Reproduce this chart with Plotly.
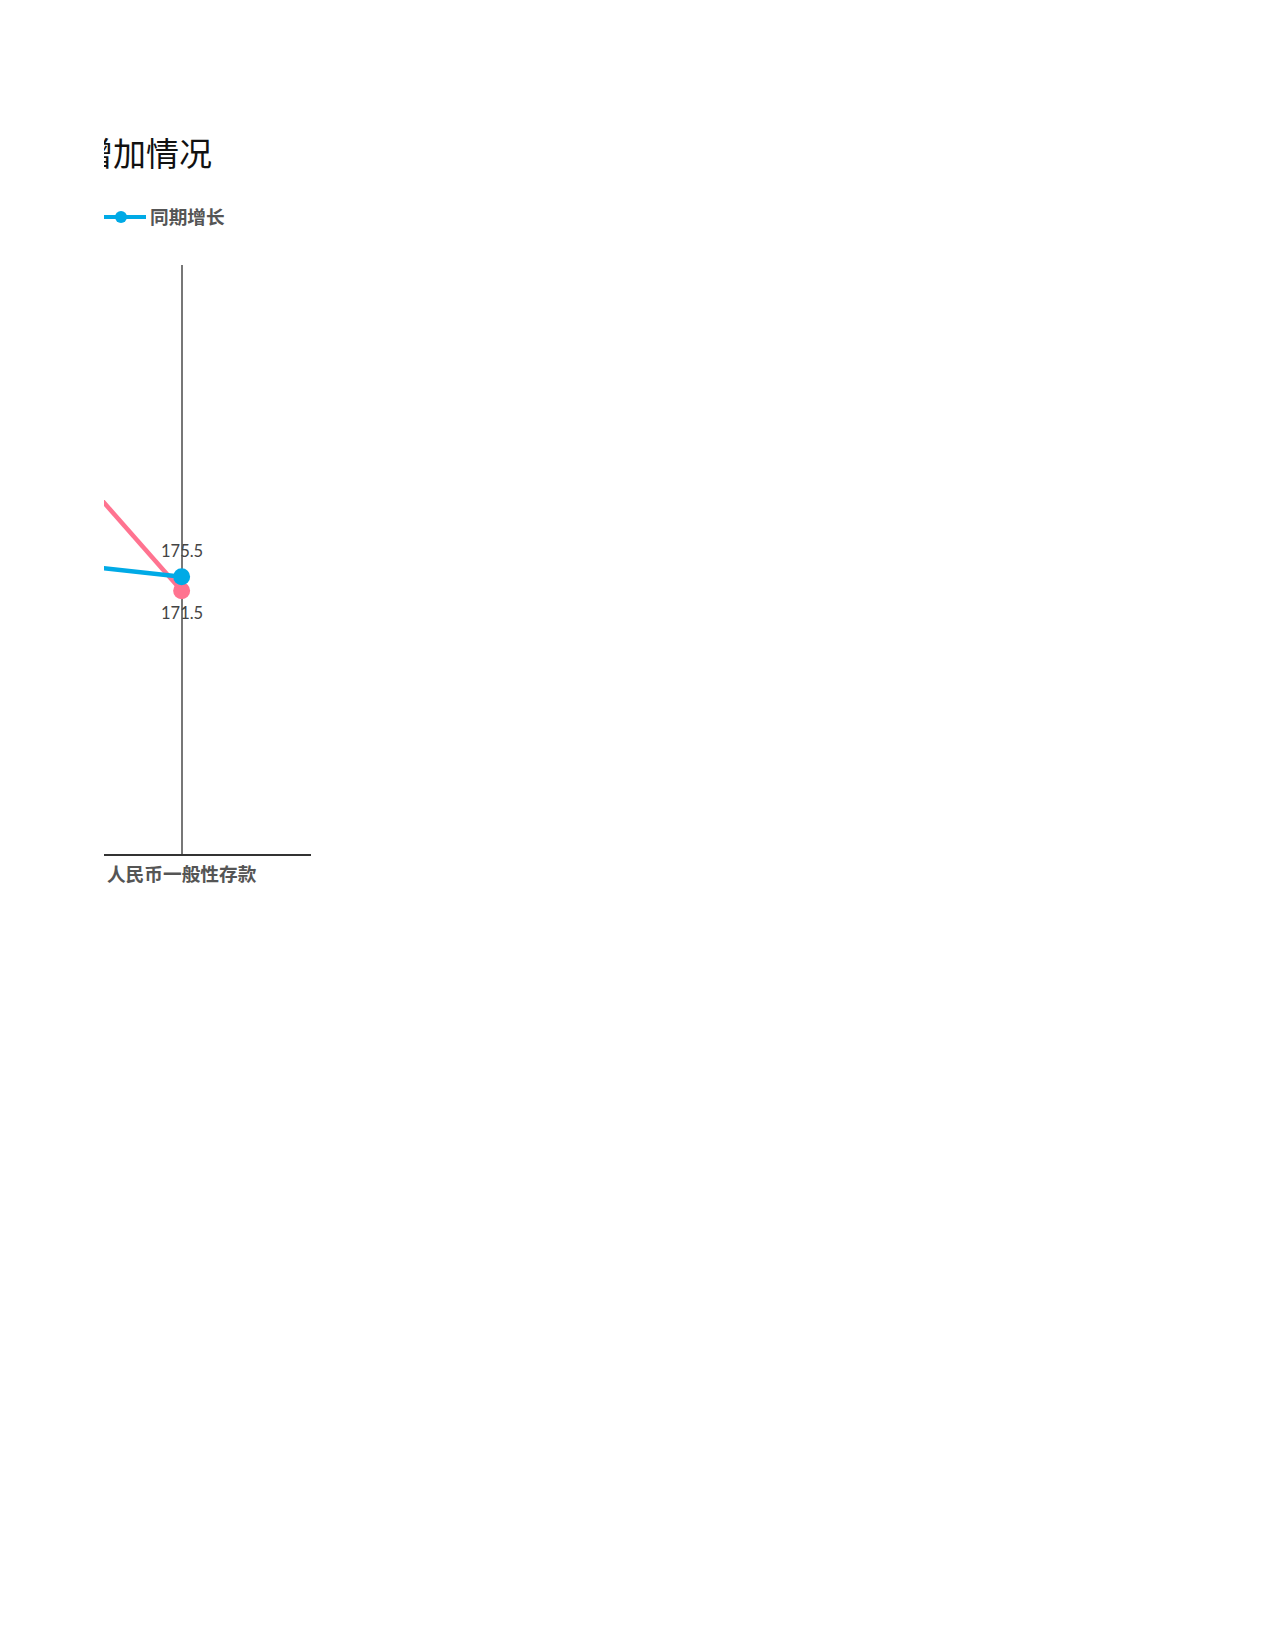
import plotly.graph_objects as go

# data
categories = ["人民币各项存款", "人民币一般性存款"]
current_growth = [255.5, 171.5]   # 本期增长
prior_growth = [183.6, 175.5]     # 同期增长
series_names = ["本期增长", "同期增长"]
title_text = "人民币存款增加情况"

PINK = "#FF7390"
BLUE = "#00AAE6"
W, H = 1275, 1650
OFF = 8  # body margin of the page


def px(x):
    return (x - OFF) / W


def py(y):
    return 1 - (y - OFF) / H


fig = go.Figure()

fig.add_trace(go.Scatter(
    x=categories, y=current_growth, name=series_names[0],
    mode="lines+markers",
    line=dict(color=PINK, width=4.5), marker=dict(color=PINK, size=17),
    cliponaxis=True,
))
fig.add_trace(go.Scatter(
    x=categories, y=prior_growth, name=series_names[1],
    mode="lines+markers",
    line=dict(color=BLUE, width=4.5), marker=dict(color=BLUE, size=17),
    cliponaxis=True,
))

# value labels: pink below its point, blue above
for cat, v in zip(categories, current_growth):
    fig.add_annotation(x=cat, y=v, text=str(v), showarrow=False, yshift=-22,
                       font=dict(family="Lato", size=16.5, color="#444"))
for cat, v in zip(categories, prior_growth):
    fig.add_annotation(x=cat, y=v, text=str(v), showarrow=False, yshift=26,
                       font=dict(family="Lato", size=16.5, color="#444"))

# title and legend live in a clipped overlay (the chart is cut off on the left)
fig.add_trace(go.Scatter(
    x=[212], y=[158], mode="text", text=[title_text],
    textposition="middle left",
    textfont=dict(family="Noto Sans CJK SC", size=33, color="#111"),
    xaxis="x2", yaxis="y2", cliponaxis=True, hoverinfo="skip",
))
legend_colors = [PINK, BLUE]
legend_x = [-4, 121]
for name, col, cx in zip(series_names, legend_colors, legend_x):
    fig.add_trace(go.Scatter(
        x=[cx - 25, cx + 25], y=[217, 217], mode="lines",
        line=dict(color=col, width=4),
        xaxis="x2", yaxis="y2", cliponaxis=True, hoverinfo="skip",
    ))
    fig.add_trace(go.Scatter(
        x=[cx], y=[217], mode="markers", marker=dict(color=col, size=12),
        xaxis="x2", yaxis="y2", cliponaxis=True, hoverinfo="skip",
    ))
    fig.add_trace(go.Scatter(
        x=[cx + 29], y=[219], mode="text", text=[name],
        textposition="middle right",
        textfont=dict(family="Noto Sans CJK SC", size=18.7, color="#555",
                      weight="bold"),
        xaxis="x2", yaxis="y2", cliponaxis=True, hoverinfo="skip",
    ))

fig.update_layout(
    width=W, height=H,
    margin=dict(l=0, r=0, t=0, b=0),
    paper_bgcolor="white", plot_bgcolor="white",
    showlegend=False,
    xaxis=dict(
        domain=[px(104), px(311)], range=[0.70, 1.5],
        showline=True, linecolor="#333", linewidth=2,
        showgrid=True, gridcolor="#777", gridwidth=1.5,
        ticks="", zeroline=False, ticklabelstandoff=3,
        tickfont=dict(family="Noto Sans CJK SC", size=18.7, color="#555",
                      weight="bold"),
    ),
    yaxis=dict(
        domain=[py(854), py(265)], range=[96.3, 264.6],
        visible=False,
    ),
    xaxis2=dict(domain=[px(104), px(900)], range=[104, 900],
                visible=False, anchor="y2"),
    yaxis2=dict(domain=[py(250), py(100)], range=[250, 100],
                visible=False, anchor="x2"),
)

fig.write_html("out.html")
